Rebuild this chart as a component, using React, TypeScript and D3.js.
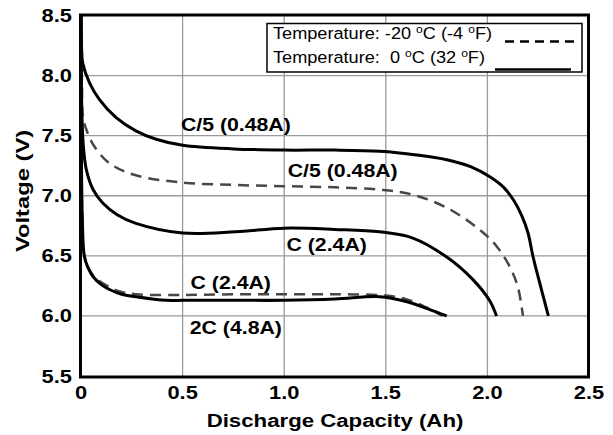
import * as d3 from 'd3';

// Discharge curves, capacity (Ah) vs voltage (V)
// 0 °C (solid)
const capC5Warm = [0, 0.003, 0.009, 0.042, 0.091, 0.173, 0.27, 0.37, 0.5, 0.75, 1.0, 1.25, 1.47, 1.65, 1.8, 1.92, 2.01, 2.08, 2.13, 2.17, 2.2, 2.225, 2.258, 2.3];
const voltC5Warm = [8.5, 8.22, 8.1, 7.94, 7.8, 7.65, 7.54, 7.47, 7.42, 7.39, 7.38, 7.38, 7.37, 7.34, 7.3, 7.24, 7.16, 7.07, 6.96, 6.83, 6.69, 6.49, 6.27, 6.0];

const capCWarm = [0, 0.003, 0.01, 0.026, 0.06, 0.107, 0.18, 0.27, 0.5, 0.76, 1.0, 1.25, 1.47, 1.63, 1.8, 1.93, 2.01, 2.045];
const voltCWarm = [8.5, 7.8, 7.45, 7.22, 7.05, 6.94, 6.84, 6.77, 6.69, 6.7, 6.73, 6.72, 6.7, 6.65, 6.49, 6.3, 6.13, 6.0];

const cap2CWarm = [0, 0.002, 0.006, 0.017, 0.035, 0.058, 0.1, 0.14, 0.2, 0.27, 0.42, 0.5, 0.75, 1.0, 1.25, 1.47, 1.6, 1.72, 1.8];
const volt2CWarm = [8.5, 7.4, 6.85, 6.49, 6.4, 6.33, 6.26, 6.22, 6.18, 6.16, 6.13, 6.13, 6.13, 6.13, 6.14, 6.16, 6.12, 6.05, 6.0];

// -20 °C (dashed)
const capC5Cold = [0, 0.002, 0.005, 0.009, 0.033, 0.066, 0.14, 0.27, 0.5, 0.75, 1.0, 1.25, 1.47, 1.63, 1.8, 1.96, 2.045, 2.11, 2.15, 2.175];
const voltC5Cold = [8.5, 8.2, 7.9, 7.66, 7.52, 7.41, 7.27, 7.17, 7.11, 7.09, 7.08, 7.07, 7.05, 7.01, 6.9, 6.72, 6.58, 6.41, 6.24, 6.0];

const capCCold = [0, 0.002, 0.006, 0.017, 0.058, 0.14, 0.2, 0.27, 0.5, 0.75, 1.0, 1.25, 1.5, 1.6, 1.7, 1.78];
const voltCCold = [8.5, 7.4, 6.85, 6.5, 6.34, 6.24, 6.2, 6.18, 6.175, 6.18, 6.18, 6.18, 6.17, 6.14, 6.07, 6.0];

const xTicks = [0, 0.5, 1.0, 1.5, 2.0, 2.5];
const xTickLabels = ['0', '0.5', '1.0', '1.5', '2.0', '2.5'];
const yTicks = [5.5, 6.0, 6.5, 7.0, 7.5, 8.0, 8.5];

const FONT = '"Liberation Sans", Arial, Helvetica, sans-serif';

const zip = (xs: number[], ys: number[]) => xs.map((v, i) => [v, ys[i]] as [number, number]);

const Txt = ({ x, y, sx = 1.15, size = 19, anchor = 'middle', weight = 'bold', rotate = 0, children }: any) => (
  <text
    transform={`translate(${x},${y})${rotate ? ` rotate(${rotate})` : ''} scale(${sx},1)`}
    fontSize={size}
    fontWeight={weight}
    fontFamily={FONT}
    textAnchor={anchor}
    fill='#000'
    style={{ whiteSpace: 'pre' }}
  >
    {children}
  </text>
);

const App = () => {
  const width = 613;
  const height = 435;

  const x = d3.scaleLinear().domain([0, 2.5]).range([81, 589]);
  const y = d3.scaleLinear().domain([5.5, 8.5]).range([376, 15.5]);

  const line = d3
    .line<[number, number]>()
    .x((d) => x(d[0]))
    .y((d) => y(d[1]))
    .curve(d3.curveCatmullRom.alpha(0.5));

  const solid = [zip(capC5Warm, voltC5Warm), zip(capCWarm, voltCWarm), zip(cap2CWarm, volt2CWarm)];
  const dashed = [zip(capC5Cold, voltC5Cold), zip(capCCold, voltCCold)];

  const sup = (s: string) => (
    <tspan fontSize={11} dy={-6}>
      {s}
    </tspan>
  );

  return (
    <svg width={width} height={height} style={{ position: 'absolute', left: 0, top: 0, background: '#fff' }}>
      <defs>
        <clipPath id='plot'>
          <rect x={x(0)} y={y(8.5)} width={x(2.5) - x(0)} height={y(5.5) - y(8.5)} />
        </clipPath>
      </defs>

      {/* grid */}
      {xTicks.slice(1, -1).map((t) => (
        <line key={'gx' + t} x1={x(t)} x2={x(t)} y1={y(8.5)} y2={y(5.5)} stroke='#9a9a9a' strokeWidth={1.3} />
      ))}
      {yTicks.slice(1, -1).map((t) => (
        <line key={'gy' + t} x1={x(0)} x2={x(2.5)} y1={y(t)} y2={y(t)} stroke='#9a9a9a' strokeWidth={1.3} />
      ))}

      {/* curves */}
      <g clipPath='url(#plot)' fill='none'>
        {dashed.map((d, i) => (
          <path key={'d' + i} d={line(d) || ''} stroke='#474747' strokeWidth={2.5} strokeDasharray='11 7' />
        ))}
        {solid.map((d, i) => (
          <path key={'s' + i} d={line(d) || ''} stroke='#000' strokeWidth={3} />
        ))}
      </g>

      {/* legend */}
      <rect x={267} y={23.5} width={315} height={48.5} fill='#fff' stroke='#000' strokeWidth={1.5} />
      <Txt x={273} y={39} size={16.5} sx={1.1} anchor='start' weight='normal'>
        {'Temperature: -20 '}
        {sup('o')}
        <tspan dy={6}>{'C (-4 '}</tspan>
        {sup('o')}
        <tspan dy={6}>{'F)'}</tspan>
      </Txt>
      <Txt x={273} y={63} size={16.5} sx={1.1} anchor='start' weight='normal'>
        {'Temperature:  0 '}
        {sup('o')}
        <tspan dy={6}>{'C (32 '}</tspan>
        {sup('o')}
        <tspan dy={6}>{'F)'}</tspan>
      </Txt>
      <line x1={505} x2={576} y1={41.5} y2={41.5} stroke='#000' strokeWidth={2.5} strokeDasharray='9 6' />
      <line x1={495} x2={571} y1={69.5} y2={69.5} stroke='#000' strokeWidth={2.5} />

      {/* frame */}
      <rect x={x(0) - 0.5} y={y(8.5) - 0.5} width={x(2.5) - x(0)} height={y(5.5) - y(8.5) + 1.5} fill='none' stroke='#000' strokeWidth={3} />

      {/* tick labels */}
      {yTicks.map((t) => (
        <Txt key={'ty' + t} x={72} y={y(t) + 6.5} anchor='end'>
          {t.toFixed(1)}
        </Txt>
      ))}
      {xTicks.map((t, i) => (
        <Txt key={'tx' + t} x={x(t)} y={399}>
          {xTickLabels[i]}
        </Txt>
      ))}

      {/* axis titles */}
      <Txt x={(x(0) + x(2.5)) / 2} y={426.5} sx={1.17}>
        Discharge Capacity (Ah)
      </Txt>
      <Txt x={29} y={191} rotate={-90} sx={1.25}>
        Voltage (V)
      </Txt>

      {/* curve labels */}
      <Txt x={x(0.762)} y={y(7.54)} sx={1.12}>C/5 (0.48A)</Txt>
      <Txt x={x(1.288)} y={y(7.156)} sx={1.12}>C/5 (0.48A)</Txt>
      <Txt x={x(1.209)} y={y(6.54)} sx={1.12}>C (2.4A)</Txt>
      <Txt x={x(0.737)} y={y(6.224)} sx={1.12}>C (2.4A)</Txt>
      <Txt x={x(0.762)} y={y(5.85)} sx={1.12}>2C (4.8A)</Txt>
    </svg>
  );
};

export default App;
